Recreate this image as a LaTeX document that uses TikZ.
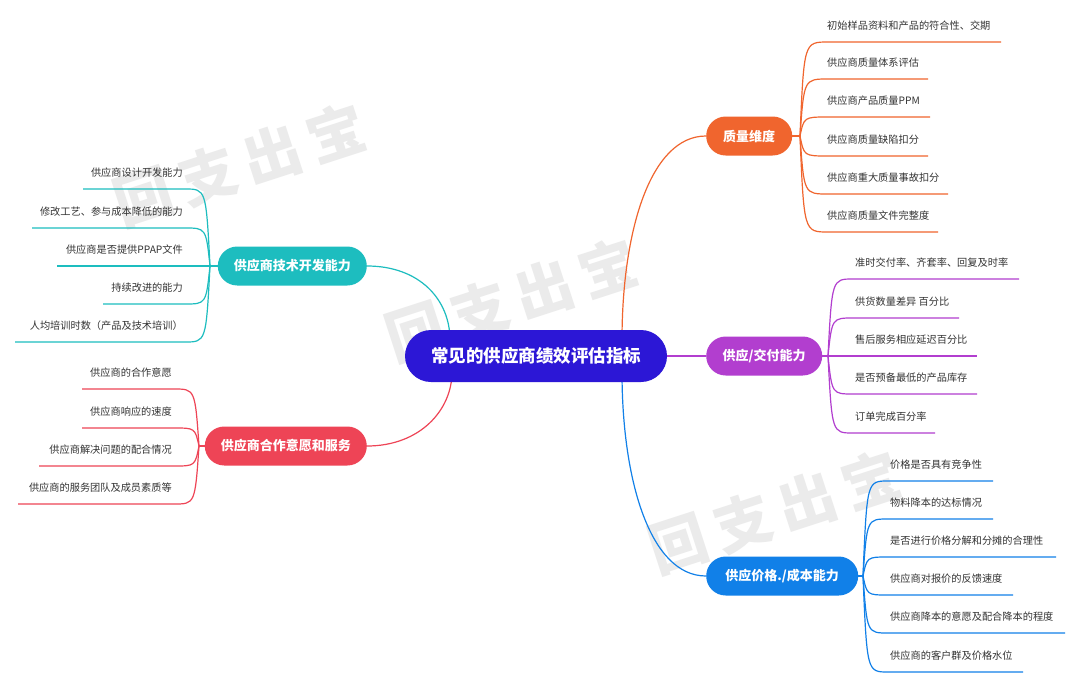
\documentclass[tikz,border=0pt]{standalone}
\usepackage{fontspec}
\setmainfont{Noto Sans CJK SC}
\definecolor{cmain}{HTML}{2C17D6}
\definecolor{corange}{HTML}{F0652E}
\definecolor{cpurple}{HTML}{B23ECF}
\definecolor{cblue}{HTML}{1180E8}
\definecolor{cteal}{HTML}{1DBDBF}
\definecolor{cred}{HTML}{EE4456}
\definecolor{cleaf}{HTML}{333333}
\definecolor{cwm}{HTML}{EBEBEB}
\tikzset{
  mainbox/.style={fill=cmain, text=white, rounded corners=26pt, minimum width=262pt, minimum height=52pt, inner sep=0pt, font=\fontsize{17.5}{20}\selectfont\bfseries},
  branchbox/.style={fill=#1, text=white, rounded corners=19.5pt, minimum height=39pt, inner sep=0pt, font=\fontsize{13}{15}\selectfont\bfseries},
  leaftext/.style={text=cleaf, inner sep=0pt, font=\fontsize{10.2}{12}\selectfont},
  conn/.style={draw=#1, line width=1.2pt},
  wmark/.style={text=cwm, rotate=18, inner sep=0pt, font=\fontsize{58}{60}\selectfont\bfseries}
}
\begin{document}
\begin{tikzpicture}[x=1pt,y=-1pt]
\useasboundingbox (0,0) rectangle (1080,686);
\fill[white] (0,0) rectangle (1080,686);
% watermarks
\node[wmark] (wm1) at (240,165) {回\,支\,出\,宝};
\node[wmark] (wm2) at (512,300) {回\,支\,出\,宝};
\node[wmark] (wm3) at (775,512) {回\,支\,出\,宝};
% coordinates for main node attachment points
\coordinate (mtl) at (450,340);
\coordinate (mbl) at (452,372);
\coordinate (mtr) at (622,340);
\coordinate (mbr) at (622,372);
\coordinate (mr) at (660,356);
% branch nodes positions (drawn later)
\coordinate (qW) at (706,136);
\coordinate (pW) at (706,356);
\coordinate (bW) at (706,576);
\coordinate (tE) at (367,266);
\coordinate (rE) at (367,446);
% main connectors
\draw[conn=corange] (qW) .. controls (650,136) and (622,232) .. (mtr);
\draw[conn=cpurple] (mr) -- (pW);
\draw[conn=cblue] (bW) .. controls (650,576) and (622,480) .. (mbr);
\draw[conn=cteal] (tE) .. controls (420,266) and (450,300) .. (mtl);
\draw[conn=cred] (rE) .. controls (420,446) and (452,410) .. (mbl);
% nodes
\node[mainbox] (main) at (536,356) {常见的供应商绩效评估指标};
\node[branchbox=corange, minimum width=86pt, anchor=west] (q) at (706,136) {质量维度};
\node[branchbox=cpurple, minimum width=116pt, anchor=west] (p) at (706,356) {供应/交付能力};
\node[branchbox=cblue, minimum width=152pt, anchor=west] (b) at (706,576) {供应价格./成本能力};
\node[branchbox=cteal, minimum width=149pt, anchor=east] (t) at (367,266) {供应商技术开发能力};
\node[branchbox=cred, minimum width=162pt, anchor=east] (r) at (367,446) {供应商合作意愿和服务};
% junctions
\coordinate (qj) at (800,136);
\coordinate (pj) at (828,356);
\coordinate (bj) at (863,576);
\coordinate (tj) at (210,266);
\coordinate (rj) at (199,446);
\draw[conn=corange] (q.east) -- (qj);
\draw[conn=cpurple] (p.east) -- (pj);
\draw[conn=cblue] (b.east) -- (bj);
\draw[conn=cteal] (t.west) -- (tj);
\draw[conn=cred] (r.west) -- (rj);
% quality leaves
\foreach \i/\y/\e/\t in {1/42/1001/初始样品资料和产品的符合性、交期, 2/79/928/供应商质量体系评估, 3/117/930/供应商产品质量PPM, 4/156/928/供应商质量缺陷扣分, 5/194/948/供应商重大质量事故扣分, 6/232/938/供应商质量文件完整度}{
  \coordinate (qs\i) at (828,\y);
  \coordinate (qe\i) at (\e,\y);
  \node[leaftext, anchor=west] (ql\i) at (827,\y-16.5) {\t};
  \draw[conn=corange] (qj) .. controls (804,\y) and (804,\y) .. (qs\i) -- (qe\i);
}
% supply leaves
\foreach \i/\y/\e/\t in {1/279/1019/准时交付率、齐套率、回复及时率, 2/318/959/供货数量差异 百分比, 3/356/977/售后服务相应延迟百分比, 4/394/977/是否预备最低的产品库存, 5/433/935/订单完成百分率}{
  \coordinate (ps\i) at (853,\y);
  \coordinate (pe\i) at (\e,\y);
  \node[leaftext, anchor=west] (pl\i) at (855,\y-16.5) {\t};
  \draw[conn=cpurple] (pj) .. controls (832,\y) and (832,\y) .. (ps\i) -- (pe\i);
}
% price leaves
\foreach \i/\y/\e/\t in {1/481/993/价格是否具有竞争性, 2/519/993/物料降本的达标情况, 3/557/1056/是否进行价格分解和分摊的合理性, 4/595/1013/供应商对报价的反馈速度, 5/633/1065/供应商降本的意愿及配合降本的程度, 6/672/1023/供应商的客户群及价格水位}{
  \coordinate (bs\i) at (888,\y);
  \coordinate (be\i) at (\e,\y);
  \node[leaftext, anchor=west] (bl\i) at (890,\y-16.5) {\t};
  \draw[conn=cblue] (bj) .. controls (867,\y) and (867,\y) .. (bs\i) -- (be\i);
}
% tech leaves
\foreach \i/\y/\e/\t in {1/189/83/供应商设计开发能力, 2/228/32/修改工艺、参与成本降低的能力, 3/266/57/供应商是否提供PPAP文件, 4/304/103/持续改进的能力, 5/342/15/人均培训时数（产品及技术培训）}{
  \coordinate (ts\i) at (185,\y);
  \coordinate (te\i) at (\e,\y);
  \node[leaftext, anchor=east] (tl\i) at (183,\y-16.5) {\t};
  \draw[conn=cteal] (tj) .. controls (206,\y) and (206,\y) .. (ts\i) -- (te\i);
}
% cooperation leaves
\foreach \i/\y/\e/\t in {1/389/82/供应商的合作意愿, 2/428/82/供应商响应的速度, 3/466/39/供应商解决问题的配合情况, 4/504/18/供应商的服务团队及成员素质等}{
  \coordinate (rs\i) at (174,\y);
  \coordinate (re\i) at (\e,\y);
  \node[leaftext, anchor=east] (rl\i) at (172,\y-16.5) {\t};
  \draw[conn=cred] (rj) .. controls (195,\y) and (195,\y) .. (rs\i) -- (re\i);
}
\end{tikzpicture}
\end{document}
